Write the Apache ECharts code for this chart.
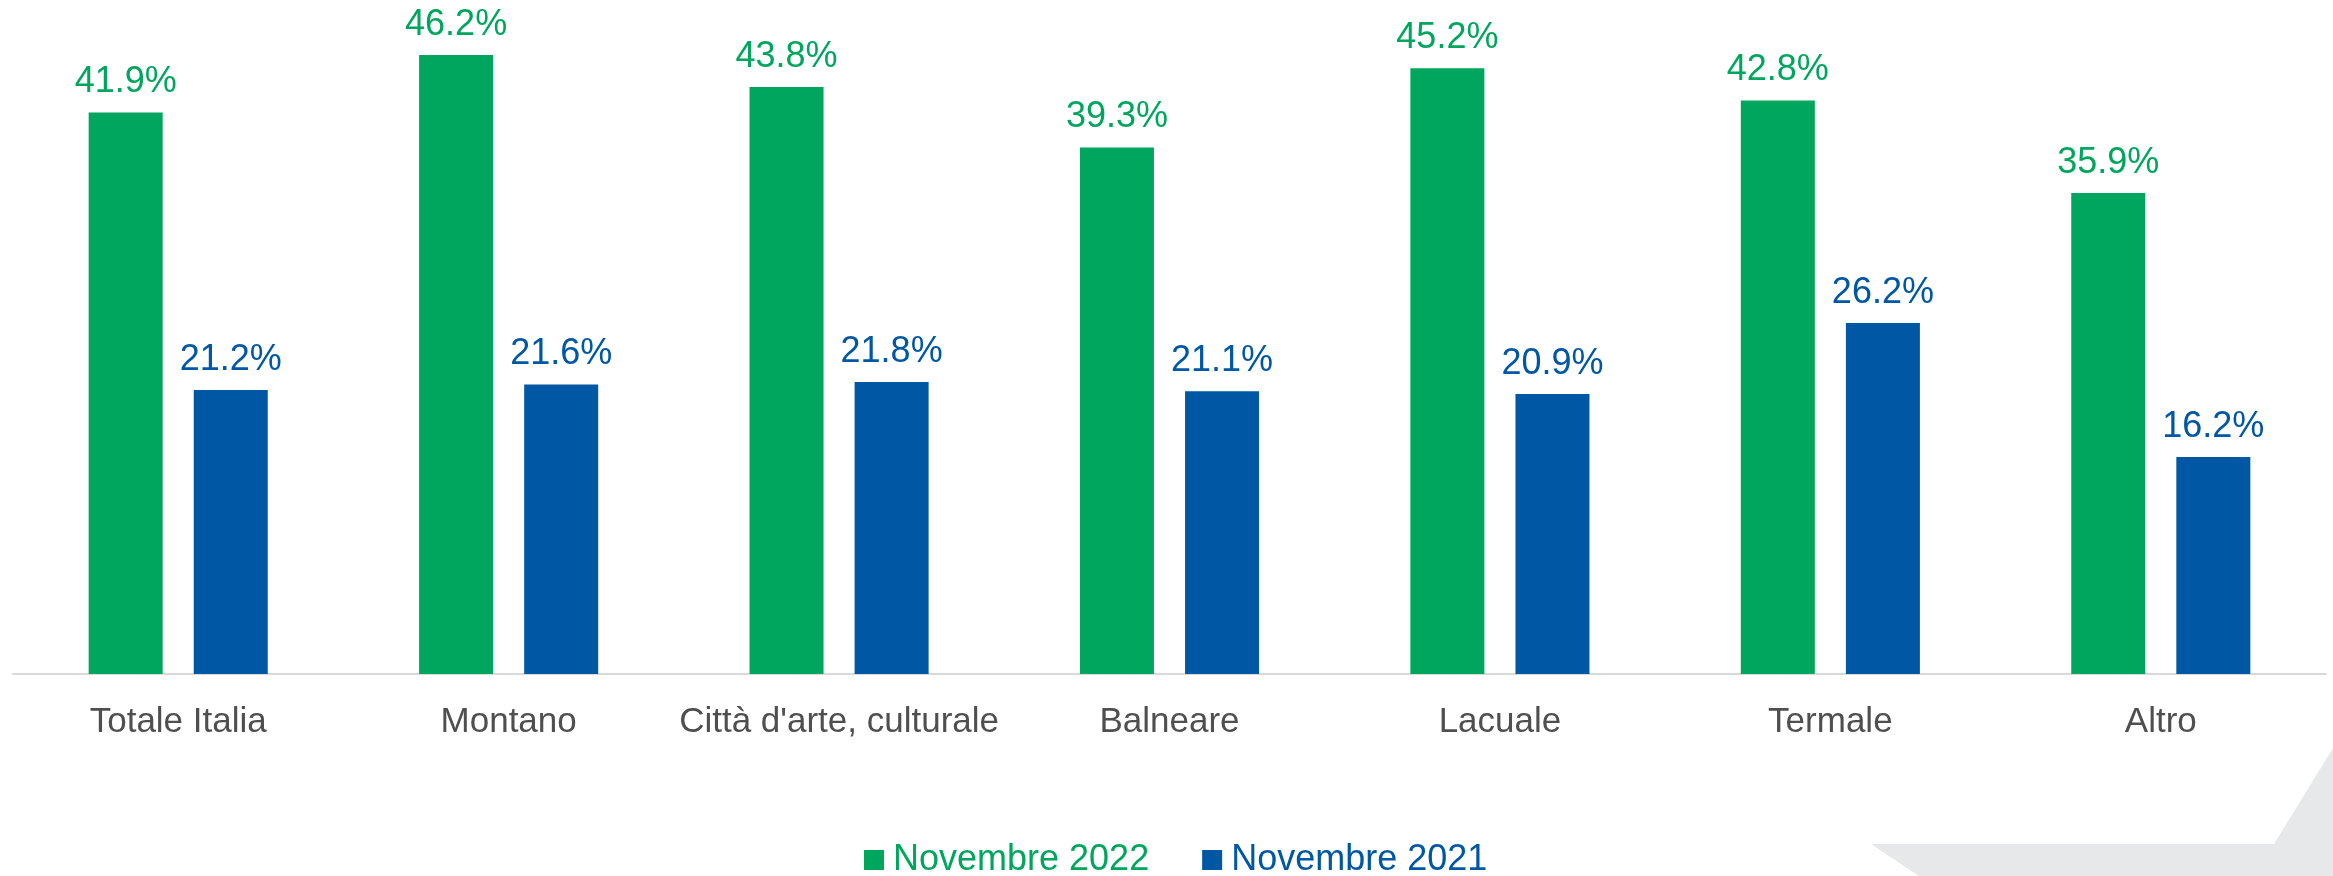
<!DOCTYPE html>
<html>
<head>
<meta charset="utf-8">
<script src="https://cdn.jsdelivr.net/npm/echarts@6/dist/echarts.min.js"></script>
<style>
  html, body { margin: 0; padding: 0; background: #ffffff; }
  #chart { width: 2333px; height: 876px; }
</style>
</head>
<body>
<div id="chart"></div>
<script>
// Destinations and occupancy rates (%)
const categories = ['Totale Italia', 'Montano', "Città d'arte, culturale", 'Balneare', 'Lacuale', 'Termale', 'Altro'];
const seriesNames = ['Novembre 2022', 'Novembre 2021'];
const nov2022 = [41.9, 46.2, 43.8, 39.3, 45.2, 42.8, 35.9];
const nov2021 = [21.2, 21.6, 21.8, 21.1, 20.9, 26.2, 16.2];

const GREEN = '#00A65E';
const BLUE = '#0057A4';
const FONT = '"Liberation Sans", Arial, sans-serif';

const chart = echarts.init(document.getElementById('chart'), null, { renderer: 'canvas' });

function barSeries(name, data, color) {
  return {
    name: name,
    type: 'bar',
    data: data,
    barWidth: 74,
    barGap: '42%',
    itemStyle: { color: color },
    label: {
      show: true,
      position: 'top',
      distance: 12,
      color: color,
      fontSize: 36,
      fontFamily: FONT,
      formatter: p => p.value.toFixed(1) + '%'
    }
  };
}

chart.setOption({
  animation: false,
  backgroundColor: '#ffffff',
  grid: { left: 13, right: 7, top: 4, bottom: 202, containLabel: false },
  legend: {
    data: seriesNames,
    left: 864,
    top: 842,
    padding: 0,
    icon: 'rect',
    itemWidth: 20,
    itemHeight: 20,
    itemGap: 53,
    textStyle: {
      fontSize: 36,
      fontFamily: FONT,
      padding: [0, 0, 0, 4],
      color: 'inherit'
    }
  },
  xAxis: {
    type: 'category',
    data: categories,
    axisLine: { lineStyle: { color: '#D9D9D9', width: 2 } },
    axisTick: { show: false },
    axisLabel: {
      color: '#4F4F4F',
      fontSize: 35,
      fontFamily: FONT,
      margin: 31,
      interval: 0
    }
  },
  yAxis: {
    type: 'value',
    min: 0,
    max: 50,
    interval: 10,
    show: false,
    splitLine: { show: false }
  },
  // light grey corner ribbon
  graphic: [{
    type: 'polygon',
    silent: true,
    z: -1,
    shape: {
      points: [[1871, 844], [2274, 844], [2333, 748], [2333, 876], [1919, 876]]
    },
    style: { fill: '#E7E8EA' }
  }],
  series: [
    barSeries(seriesNames[0], nov2022, GREEN),
    barSeries(seriesNames[1], nov2021, BLUE)
  ]
});
</script>
</body>
</html>
